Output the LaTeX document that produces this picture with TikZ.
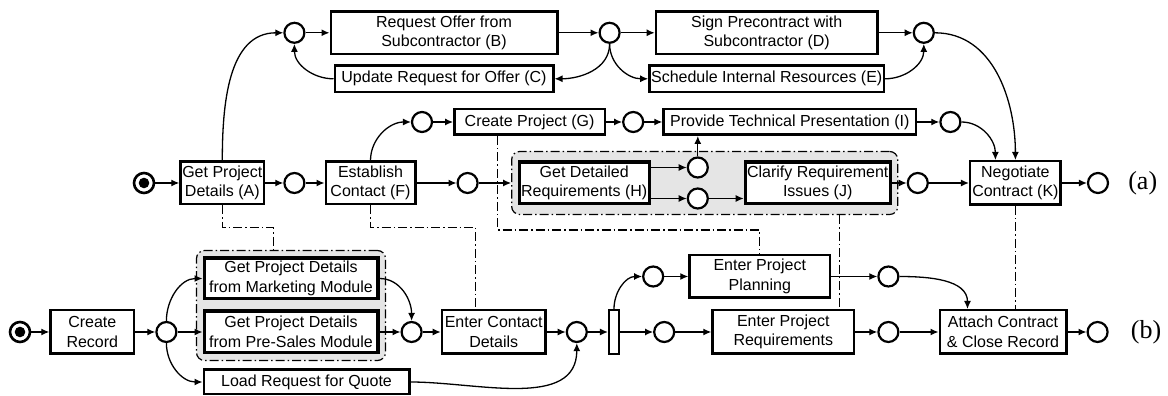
\documentclass[tikz,border=0pt]{standalone}
\usepackage{fontspec}
\setmainfont{Liberation Serif}
\setsansfont{Liberation Sans}
\usepackage{tikz}
\usetikzlibrary{positioning, calc, fit, backgrounds, arrows.meta}
\definecolor{groupgray}{RGB}{229,229,229}

\begin{document}
\begin{tikzpicture}[
    x=1pt, y=1pt,
    >={Latex[length=8pt,width=7pt]},
    task/.style={rectangle, draw, fill=white, line width=2.5pt, inner sep=1pt, align=center, font=\sffamily\fontsize{16}{19.5}\selectfont},
    subtask/.style={task, line width=3.2pt},
    place/.style={circle, draw, fill=white, line width=2.2pt, minimum size=20pt, inner sep=0pt},
    start/.style={place, line width=2.6pt, path picture={\fill[black] (path picture bounding box.center) circle (5.3pt);}},
    andbar/.style={rectangle, draw, fill=white, line width=2.2pt, minimum width=10pt, minimum height=44pt, inner sep=0pt},
    group/.style={rectangle, rounded corners=8pt, draw, fill=groupgray, line width=1.2pt, dash pattern=on 9pt off 3pt on 1.5pt off 3pt},
    link/.style={line width=1.3pt},
    corr/.style={line width=1.2pt, dash pattern=on 9pt off 3pt on 1.5pt off 3pt},
    tag/.style={inner sep=0pt, font=\fontsize{26}{30}\selectfont}
]
\useasboundingbox (0,0) rectangle (1168,396);

% 上图 (a) 主线
\node[start] (start_a) at (144,213) {};
\node[task, minimum width=83.5pt, minimum height=42.5pt, right=24pt of start_a] (task_a) {Get Project\\Details (A)};
\node[place, right=18pt of task_a] (place_a) {};
\node[task, minimum width=89.5pt, minimum height=42.5pt, right=19pt of place_a] (task_f) {Establish\\Contact (F)};
\node[place, right=40pt of task_f] (place_f) {};
\node[subtask, minimum width=129.8pt, minimum height=41.8pt, right=39pt of place_f] (task_h) {Get Detailed\\Requirements (H)};
\node[place, right=36pt of task_h.east, yshift=15.5pt] (place_h0) {};
\node[place, right=36pt of task_h.east, yshift=-15.5pt] (place_h1) {};
\node[subtask, minimum width=144.8pt, minimum height=41.8pt, right=93pt of task_h] (task_j) {Clarify Requirement\\Issues (J)};
\node[place, right=15pt of task_j] (place_j) {};
\node[task, minimum width=90.5pt, minimum height=43.5pt, right=40pt of place_j] (task_k) {Negotiate\\Contract (K)};
\node[place, right=25pt of task_k] (place_k) {};
\node[tag, right=19pt of place_k] (label_a) {(a)};

% 上方分包支线
\node[place, above=128pt of place_a] (place_top) {};
\node[task, minimum width=226.5pt, minimum height=42.5pt, right=24pt of place_top] (task_b) {Request Offer from\\Subcontractor (B)};
\node[task, minimum width=218.5pt, minimum height=26.5pt, below=9pt of task_b] (task_c) {Update Request for Offer (C)};
\node[place, right=40pt of task_b] (place_b) {};
\node[task, minimum width=221.5pt, minimum height=42.5pt, right=34pt of place_b] (task_d) {Sign Precontract with\\Subcontractor (D)};
\node[task, minimum width=234.5pt, minimum height=26.5pt, below=9pt of task_d] (task_e) {Schedule Internal Resources (E)};
\node[place, right=34pt of task_d] (place_d) {};

% 中间项目支线
\node[place] (place_g0) at (422,274) {};
\node[task, minimum width=150.5pt, minimum height=25.5pt, right=20pt of place_g0] (task_g) {Create Project (G)};
\node[place, right=16pt of task_g] (place_g) {};
\node[task, minimum width=252.5pt, minimum height=25.5pt, right=18pt of place_g] (task_i) {Provide Technical Presentation (I)};
\node[place, right=22pt of task_i] (place_i) {};

% 下图 (b)
\node[start] (start_b) at (20,64) {};
\node[task, minimum width=83.5pt, minimum height=43.5pt, right=18pt of start_b] (create_rec) {Create\\Record};
\node[place, right=20pt of create_rec] (place_rec) {};
\node[subtask, minimum width=173.8pt, minimum height=41.8pt, right=25pt of place_rec] (presales) {Get Project Details\\from Pre-Sales Module};
\node[subtask, minimum width=173.8pt, minimum height=40.8pt, above=9pt of presales] (marketing) {Get Project Details\\from Marketing Module};
\node[task, minimum width=205.5pt, minimum height=24.5pt, below right=14pt and 0pt of presales.south west] (load_quote) {Load Request for Quote};
\node[place, right=21pt of presales] (place_mp) {};
\node[task, minimum width=103.5pt, minimum height=43.5pt, right=18pt of place_mp] (contact_det) {Enter Contact\\Details};
\node[place, right=19pt of contact_det] (place_contact) {};
\node[andbar, right=20pt of place_contact] (and_split) {};
\node[place, right=33pt of and_split] (place_req0) {};
\node[task, minimum width=141.5pt, minimum height=43.5pt, right=36pt of place_req0] (proj_req) {Enter Project\\Requirements};
\node[task, minimum width=140.5pt, minimum height=42.5pt, above=10pt of proj_req, xshift=-23.5pt] (proj_plan) {Enter Project\\Planning};
\node[place, left=24pt of proj_plan] (place_plan0) {};
\node[place, right=46pt of proj_plan] (place_plan) {};
\node[place, right=22pt of proj_req] (place_req) {};
\node[task, minimum width=126.5pt, minimum height=43.5pt, right=39pt of place_req] (attach_close) {Attach Contract\\\& Close Record};
\node[place, right=19pt of attach_close] (place_end) {};
\node[tag, right=22pt of place_end] (label_b) {(b)};

% 灰色分组
\begin{scope}[on background layer]
\node[group, inner xsep=6pt, inner ysep=9pt, fit=(task_h)(task_j)] (group_hj) {};
\node[group, inner xsep=6pt, inner ysep=6pt, fit=(marketing)(presales)] (group_mp) {};
\end{scope}

% 连接线 (a)
\draw[->, link] (start_a) -- (task_a);
\draw[->, link] (task_a) -- (place_a);
\draw[->, link] (place_a) -- (task_f);
\draw[->, link] (task_f) -- (place_f);
\draw[->, link] (place_f.east) -- (place_f.east -| group_hj.west);
\draw[->, link] (task_h.east |- place_h0) -- (place_h0.west);
\draw[->, link] (task_h.east |- place_h1) -- (place_h1.west);
\draw[->, link] (place_h1.east) -- (place_h1.east -| task_j.west);
\draw[->, link] (place_h0.north) -- (place_h0.north |- task_i.south);
\draw[->, link] (task_j) -- (place_j);
\draw[->, link] (place_j) -- (task_k);
\draw[->, link] (task_k) -- (place_k);

\draw[->, link] (task_a.north) to[out=90, in=180] (place_top.west);
\draw[->, link] (place_top) -- (task_b);
\draw[->, link] (task_c.west) to[out=180, in=-90] (place_top.south);
\draw[->, link] (task_b) -- (place_b);
\draw[->, link] (place_b.south) to[out=-90, in=0] (task_c.east);
\draw[->, link] (place_b.south) to[out=-90, in=180] (task_e.west);
\draw[->, link] (place_b) -- (task_d);
\draw[->, link] (task_d) -- (place_d);
\draw[->, link] (task_e.east) to[out=0, in=-90] (place_d.south);
\draw[->, link] (place_d.east) to[out=0, in=90] (task_k.north);

\draw[->, link] (task_f.north) to[out=90, in=180] (place_g0.west);
\draw[->, link] (place_g0) -- (task_g);
\draw[->, link] (task_g) -- (place_g);
\draw[->, link] (place_g) -- (task_i);
\draw[->, link] (task_i) -- (place_i);
\draw[->, link] (place_i.east) to[out=0, in=90] ([xshift=-20pt]task_k.north);

% 连接线 (b)
\draw[->, link] (start_b) -- (create_rec);
\draw[->, link] (create_rec) -- (place_rec);
\draw[->, link] (place_rec.north) to[out=90, in=180] (marketing.west);
\draw[->, link] (place_rec) -- (presales);
\draw[->, link] (place_rec.south) to[out=-90, in=180] (load_quote.west);
\draw[->, link] (marketing.east) to[out=0, in=90] (place_mp.north);
\draw[->, link] (presales) -- (place_mp);
\draw[->, link] (place_mp) -- (contact_det);
\draw[->, link] (contact_det) -- (place_contact);
\draw[->, link] (load_quote.east) to[out=0, in=-90] (place_contact.south);
\draw[->, link] (place_contact) -- (and_split);
\draw[->, link] (and_split.north) to[out=90, in=180] (place_plan0.west);
\draw[->, link] (and_split.east) -- (place_req0.west);
\draw[->, link] (place_plan0) -- (proj_plan);
\draw[->, link] (place_req0) -- (proj_req);
\draw[->, link] (proj_plan) -- (place_plan);
\draw[->, link] (proj_req) -- (place_req);
\draw[->, link] (place_plan.east) to[out=0, in=90] ([xshift=-35.5pt]attach_close.north);
\draw[->, link] (place_req) -- (attach_close);
\draw[->, link] (attach_close) -- (place_end);

% 对应关系 (点划线)
\draw[corr] (task_a.south) -- ++(0,-22) -| ([xshift=-17.5pt]group_mp.north);
\draw[corr] (task_f.south) -- ++(0,-22) -| ([xshift=-18pt]contact_det.north);
\draw[corr] ([xshift=-32pt]task_g.south) -- ++(0,-94) -| (proj_plan.north);
\draw[corr] ($(task_j.south |- group_hj.south)+(22,0)$) -- ($(task_j.south |- proj_req.north)+(22,0)$);
\draw[corr] (task_k.south) -- (task_k.south |- attach_close.north);

\end{tikzpicture}
\end{document}
